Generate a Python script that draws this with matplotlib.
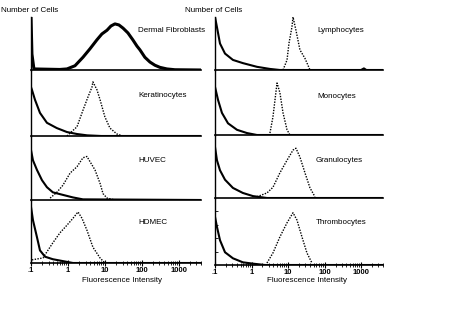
import matplotlib
matplotlib.use('Agg')
import matplotlib.pyplot as plt
from matplotlib.ticker import LogLocator, NullFormatter

plt.rcParams['font.family'] = ['Liberation Sans', 'DejaVu Sans']

# cell types, left column then right column
left_names = ['Dermal Fibroblasts', 'Keratinocytes', 'HUVEC', 'HDMEC']
right_names = ['Lymphocytes', 'Monocytes', 'Granulocytes', 'Thrombocytes']

tick_values = [0.1, 1, 10, 100, 1000]
tick_labels = ['.1', '1', '10', '100', '1000']

# control (solid) histograms: fluorescence intensity, relative cell count
fib_ctrl_x = [0.1, 0.106, 0.12, 0.6, 0.94, 1.55, 2.55, 3.95, 6.1, 8.3, 11.4, 14.6, 18.7, 24, 31, 42, 57, 74, 89, 121, 166, 226, 309, 478, 787, 4000]
fib_ctrl_y = [1.0, 0.3, 0.02, 0.01, 0.02, 0.08, 0.24, 0.4, 0.57, 0.68, 0.75, 0.83, 0.87, 0.85, 0.79, 0.7, 0.57, 0.45, 0.38, 0.24, 0.15, 0.09, 0.05, 0.02, 0.005, 0]
ker_ctrl_x = [0.1, 0.106, 0.128, 0.175, 0.27, 0.5, 0.94, 1.76, 3.3, 8, 4000]
ker_ctrl_y = [0.74, 0.70, 0.55, 0.35, 0.2, 0.12, 0.06, 0.03, 0.01, 0, 0]
huv_ctrl_x = [0.1, 0.113, 0.145, 0.198, 0.27, 0.39, 0.73, 1.37, 2.55, 4000]
huv_ctrl_y = [0.78, 0.62, 0.47, 0.31, 0.2, 0.12, 0.08, 0.04, 0.01, 0]
hdm_ctrl_x = [0.1, 0.113, 0.145, 0.175, 0.24, 0.39, 0.73, 1.37, 4000]
hdm_ctrl_y = [0.89, 0.68, 0.41, 0.2, 0.1, 0.06, 0.03, 0, 0]
lym_ctrl_x = [0.1, 0.113, 0.137, 0.188, 0.31, 0.58, 1.41, 3.2, 6.0, 1000, 1200, 1400, 4000]
lym_ctrl_y = [1.0, 0.81, 0.5, 0.31, 0.19, 0.13, 0.06, 0.02, 0, 0, 0.03, 0, 0]
mon_ctrl_x = [0.1, 0.121, 0.155, 0.227, 0.40, 0.75, 1.41, 4000]
mon_ctrl_y = [0.74, 0.54, 0.34, 0.18, 0.08, 0.03, 0, 0]
gra_ctrl_x = [0.1, 0.113, 0.137, 0.188, 0.31, 0.58, 1.10, 2.65, 4000]
gra_ctrl_y = [0.81, 0.6, 0.44, 0.29, 0.16, 0.08, 0.03, 0, 0]
thr_ctrl_x = [0.1, 0.113, 0.137, 0.188, 0.31, 0.58, 1.10, 2.34, 4000]
thr_ctrl_y = [0.72, 0.57, 0.37, 0.19, 0.1, 0.04, 0.02, 0, 0]

# stained (dotted) histograms
ker_stain_x = [0.94, 1.76, 2.55, 3.48, 4.47, 4.75, 6.1, 7.4, 10.0, 13.7, 21.2, 30.8]
ker_stain_y = [0, 0.14, 0.39, 0.59, 0.74, 0.82, 0.70, 0.55, 0.29, 0.12, 0.03, 0]
huv_stain_x = [0.33, 0.5, 0.73, 1.14, 1.76, 2.55, 3.27, 3.95, 5.4, 7.4, 8.9, 11.4, 18.7]
huv_stain_y = [0.03, 0.12, 0.23, 0.42, 0.52, 0.66, 0.68, 0.6, 0.47, 0.26, 0.1, 0.03, 0]
hdm_stain_x = [0.106, 0.21, 0.39, 0.61, 0.94, 1.37, 1.87, 2.4, 3.27, 4.75, 7.4, 10.0]
hdm_stain_y = [0.05, 0.08, 0.32, 0.48, 0.6, 0.71, 0.81, 0.71, 0.52, 0.25, 0.08, 0]
lym_stain_x = [7.3, 9.4, 10.6, 12.8, 13.7, 16.5, 21.2, 29.1, 35.2, 40]
lym_stain_y = [0, 0.19, 0.5, 0.81, 1.0, 0.75, 0.38, 0.22, 0.09, 0]
mon_stain_x = [3.2, 3.87, 4.4, 5.0, 6.0, 7.3, 9.4, 11.3]
mon_stain_y = [0.03, 0.28, 0.54, 0.8, 0.65, 0.34, 0.08, 0]
gra_stain_x = [1.41, 2.65, 3.87, 6.0, 9.4, 13.7, 16.5, 21.2, 29.1, 40, 54.7]
gra_stain_y = [0.02, 0.08, 0.17, 0.4, 0.6, 0.76, 0.79, 0.65, 0.4, 0.16, 0.02]
thr_stain_x = [2.65, 3.87, 6.0, 9.4, 13.7, 17.6, 24.1, 33, 45.3]
thr_stain_y = [0.03, 0.18, 0.42, 0.63, 0.78, 0.67, 0.42, 0.18, 0.03]

W, H = 455, 331
fig = plt.figure(figsize=(W / 100, H / 100), dpi=100)

# panel pixel boxes: (left, right), list of (top, bottom)
left_box = (31, 201, [(17, 70), (70, 136), (136, 200), (200, 263)])
right_box = (215, 383, [(17, 70), (70, 135), (135, 198), (198, 265)])

# where the cell-type names sit inside each panel (axes fraction)
left_label_pos = [(0.63, 0.75), (0.63, 0.61), (0.63, 0.625), (0.63, 0.65)]
right_label_pos = [(0.61, 0.75), (0.61, 0.60), (0.60, 0.60), (0.60, 0.64)]

left_data = [(fib_ctrl_x, fib_ctrl_y, None, None),
             (ker_ctrl_x, ker_ctrl_y, ker_stain_x, ker_stain_y),
             (huv_ctrl_x, huv_ctrl_y, huv_stain_x, huv_stain_y),
             (hdm_ctrl_x, hdm_ctrl_y, hdm_stain_x, hdm_stain_y)]
right_data = [(lym_ctrl_x, lym_ctrl_y, lym_stain_x, lym_stain_y),
              (mon_ctrl_x, mon_ctrl_y, mon_stain_x, mon_stain_y),
              (gra_ctrl_x, gra_ctrl_y, gra_stain_x, gra_stain_y),
              (thr_ctrl_x, thr_ctrl_y, thr_stain_x, thr_stain_y)]


def draw_column(box, names, data, label_pos, right_col):
    x0, x1, rows = box
    for i, ((top, bot), name, (cx, cy, sx, sy), (tx, ty)) in enumerate(zip(rows, names, data, label_pos)):
        ax = fig.add_axes([x0 / W, 1 - bot / H, (x1 - x0) / W, (bot - top) / H])
        lw = 2.2 if i == 0 and not right_col else 1.5
        ax.plot(cx, cy, color='black', lw=lw, solid_joinstyle='round')
        if sx is not None:
            ax.plot(sx, sy, color='black', lw=1.0, linestyle=(0, (1, 1)))
        ax.set_xscale('log')
        ax.set_xlim(0.1, 4000)
        ax.set_ylim(0, 1.0)
        for s in ['top', 'right']:
            ax.spines[s].set_visible(False)
        ax.spines['left'].set_linewidth(1.0)
        ax.spines['bottom'].set_linewidth(1.2)
        ax.text(tx, ty, name, transform=ax.transAxes, fontsize=5.8, va='center', ha='left')
        ax.set_yticks([])
        if i == len(rows) - 1:
            ax.set_xticks(tick_values)
            ax.set_xticklabels(tick_labels, fontsize=5.5, fontweight='bold')
            ax.xaxis.set_minor_locator(LogLocator(base=10, subs=range(2, 10)))
            ax.xaxis.set_minor_formatter(NullFormatter())
            ax.tick_params(axis='x', which='major', direction='inout', length=4, width=0.8, pad=1)
            ax.tick_params(axis='x', which='minor', direction='inout', length=2.5, width=0.6)
            if right_col:
                ax.set_yticks([0.2, 0.4, 0.6, 0.8])
                ax.set_yticklabels([])
                ax.tick_params(axis='y', direction='in', length=2, width=0.6)
        else:
            ax.set_xticks([])
            ax.xaxis.set_minor_locator(plt.NullLocator())
        ax.patch.set_alpha(0)


draw_column(left_box, left_names, left_data, left_label_pos, False)
draw_column(right_box, right_names, right_data, right_label_pos, True)

fig.text(1 / W, 1 - 10 / H, 'Number of Cells', fontsize=5.8, va='center', ha='left')
fig.text(185 / W, 1 - 10 / H, 'Number of Cells', fontsize=5.8, va='center', ha='left')
fig.text(122 / W, 1 - 281 / H, 'Fluorescence Intensity', fontsize=5.8, va='center', ha='center')
fig.text(307 / W, 1 - 281 / H, 'Fluorescence Intensity', fontsize=5.8, va='center', ha='center')

fig.savefig('out.png', dpi=100)
